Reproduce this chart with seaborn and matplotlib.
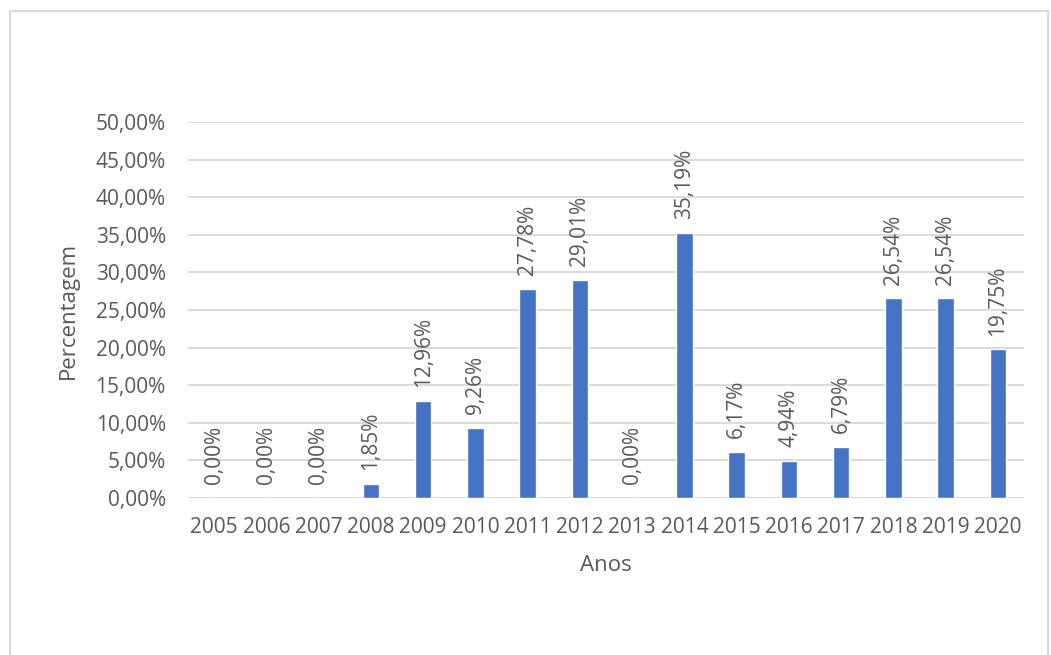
import matplotlib
matplotlib.use("Agg")
import matplotlib.pyplot as plt
import seaborn as sns
import pandas as pd
from matplotlib.patches import Rectangle

years = ["2005", "2006", "2007", "2008", "2009", "2010", "2011", "2012",
         "2013", "2014", "2015", "2016", "2017", "2018", "2019", "2020"]
values = [0.00, 0.00, 0.00, 1.85, 12.96, 9.26, 27.78, 29.01,
          0.00, 35.19, 6.17, 4.94, 6.79, 26.54, 26.54, 19.75]
y_ticks = [0, 5, 10, 15, 20, 25, 30, 35, 40, 45, 50]

sns.set_theme(style="white")
plt.rcParams['font.family'] = ['Open Sans', 'DejaVu Sans']

txt = "#595959"
grid = "#D9D9D9"
bar_color = "#4472C4"

df = pd.DataFrame({"Anos": years, "Percentagem": values})

fig = plt.figure(figsize=(10.51, 6.55), dpi=100)
ax = fig.add_axes([188/1051, 1-498/655, (1024-188)/1051, (498-122)/655])

sns.barplot(data=df, x="Anos", y="Percentagem", color=bar_color,
            width=0.32, ax=ax, saturation=1)

ax.set_ylim(0, 50)
ax.set_yticks(y_ticks)
ax.set_yticklabels([f"{v:.2f}".replace(".", ",") + "%" for v in y_ticks])
ax.set_xlim(-0.5, len(years) - 0.5)

for s in ax.spines.values():
    s.set_visible(False)
ax.yaxis.grid(True, color=grid, linewidth=1.3)
ax.set_axisbelow(True)
ax.axhline(0, color=grid, linewidth=1.3, zorder=0.5)

ax.tick_params(axis='y', length=0, pad=16, labelsize=15, labelcolor=txt)
ax.tick_params(axis='x', length=0, pad=14, labelsize=15, labelcolor=txt)

ax.set_xlabel("Anos", fontsize=16, color=txt, labelpad=12)
ax.set_ylabel("Percentagem", fontsize=16, color=txt, labelpad=12)

for i, v in enumerate(values):
    lab = f"{v:.2f}".replace(".", ",") + "%"
    ax.annotate(lab, xy=(i, v), xytext=(0, 10), textcoords="offset points",
                rotation=90, ha="center", va="bottom", fontsize=15, color=txt)

fig.patches.append(Rectangle((10/1051, -0.1), (1048-10)/1051, 1.1 - 11/655,
                             transform=fig.transFigure, fill=False,
                             edgecolor=grid, linewidth=1.5))

fig.savefig("out.png", dpi=100)
